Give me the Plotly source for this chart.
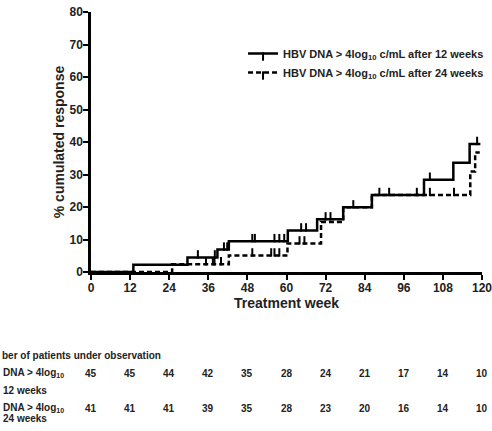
import plotly.graph_objects as go

# ---- data ----
weeks_ticks = [0, 12, 24, 36, 48, 60, 72, 84, 96, 108, 120]

t12 = [0, 13, 29.6, 38.8, 42.3, 60.4, 69.4, 77.4, 86.2, 102.2, 111.2, 116.2, 119.5]
v12 = [0, 2.2, 4.5, 6.9, 9.5, 12.8, 16.2, 19.9, 23.7, 28.4, 33.6, 39.4, 39.4]
cens12_t = [32.8, 38.0, 40.8, 41.8, 49.5, 50.3, 56.3, 57.8, 59.3, 64.5, 66.0, 72.0, 73.5, 80.5, 88.5, 91.5, 100.0, 104.0, 118.5]
cens12_v = [4.5, 4.5, 6.9, 6.9, 9.5, 9.5, 9.5, 9.5, 9.5, 12.8, 12.8, 16.2, 16.2, 19.9, 23.7, 23.7, 23.7, 28.4, 39.4]

t24 = [0, 24.9, 42.3, 60.3, 70.6, 77.4, 86.2, 116.4, 117.9, 119.3]
v24 = [0, 2.4, 5.1, 8.8, 15.4, 19.9, 23.7, 30.9, 36.8, 36.8]
cens24_t = [35.3, 37.4, 37.9, 39.9, 49.5, 55.3, 56.3, 57.8, 64.0, 65.5, 104.0, 111.4]
cens24_v = [2.4, 2.4, 2.4, 2.4, 5.1, 5.1, 5.1, 5.1, 8.8, 8.8, 23.7, 23.7]

n12 = [45, 45, 44, 42, 35, 28, 24, 21, 17, 14, 10]
n24 = [41, 41, 41, 39, 35, 28, 23, 20, 16, 14, 10]

name12 = "HBV DNA > 4log<sub>10</sub> c/mL after 12 weeks"
name24 = "HBV DNA > 4log<sub>10</sub> c/mL after 24 weeks"

# text as visible in the reference (left part is cut by the image edge)
table_title = "ber of patients under observation"
row1_l1, row1_l2 = "DNA > 4log<sub>10</sub>", "12 weeks"
row2_l1, row2_l2 = "DNA > 4log<sub>10</sub>", "24 weeks"

FONT = "Liberation Sans, Arial, sans-serif"
W, H = 492, 431
L, R, T, B = 91, 10, 12, 159
PW, PH = W - L - R, H - T - B


def px_x(px):
    return (px - L) / PW


def px_y(py):
    return (H - B - py) / PH


fig = go.Figure()

solid = dict(color="black", width=2.5)
dashed = dict(color="black", width=2.5, dash="5px,3px")
tick_marker = dict(symbol="line-ns", size=6, angle=180, standoff=3,
                   line=dict(width=2, color="black"))

fig.add_trace(go.Scatter(x=t12, y=v12, mode="lines", line=dict(shape="hv", **solid),
                         showlegend=False, hoverinfo="skip"))
fig.add_trace(go.Scatter(x=t24, y=v24, mode="lines", line=dict(shape="hv", **dashed),
                         showlegend=False, hoverinfo="skip"))
fig.add_trace(go.Scatter(x=cens12_t, y=cens12_v, mode="markers", marker=tick_marker,
                         showlegend=False, hoverinfo="skip", cliponaxis=False))
fig.add_trace(go.Scatter(x=cens24_t, y=cens24_v, mode="markers", marker=tick_marker,
                         showlegend=False, hoverinfo="skip", cliponaxis=False))

# legend entries
fig.add_trace(go.Scatter(x=[None], y=[None], mode="lines+markers", name=name12,
                         line=solid, marker=tick_marker))
fig.add_trace(go.Scatter(x=[None], y=[None], mode="lines+markers", name=name24,
                         line=dashed, marker=tick_marker))

axis_common = dict(
    showgrid=False, zeroline=False, showline=True, linecolor="black", linewidth=2.5,
    ticks="outside", ticklen=5, tickwidth=2, tickcolor="black",
    ticklabelstandoff=-2, ticklabeloverflow="allow", automargin=False,
    tickfont=dict(family=FONT, size=12, color="#222", weight="bold"),
)

fig.update_xaxes(range=[0, 120], tickvals=weeks_ticks,
                 title=dict(text="Treatment week", standoff=3,
                            font=dict(family=FONT, size=14, color="#222", weight="bold")),
                 **axis_common)
fig.update_yaxes(range=[0, 80], dtick=10,
                 title=dict(text="% cumulated response", standoff=2,
                            font=dict(family=FONT, size=14, color="#222", weight="bold")),
                 **axis_common)

ann = []
tfont = dict(family=FONT, size=10, color="#222", weight="bold")
ann.append(dict(text=table_title, xref="paper", yref="paper",
                x=px_x(0), y=px_y(355), xanchor="left", yanchor="middle",
                showarrow=False, font=tfont))
row_label_x = px_x(1)
for txt, py in [(row1_l1, 373), (row1_l2, 390), (row2_l1, 408), (row2_l2, 418)]:
    ann.append(dict(text=txt, xref="paper", yref="paper",
                    x=row_label_x, y=px_y(py), xanchor="left", yanchor="middle",
                    showarrow=False, font=tfont))
for wk, a, b in zip(weeks_ticks, n12, n24):
    ann.append(dict(text=str(a), xref="x", yref="paper", x=wk, y=px_y(373),
                    xanchor="center", yanchor="middle", showarrow=False, font=tfont))
    ann.append(dict(text=str(b), xref="x", yref="paper", x=wk, y=px_y(408),
                    xanchor="center", yanchor="middle", showarrow=False, font=tfont))

fig.update_layout(
    width=W, height=H,
    margin=dict(l=L, r=R, t=T, b=B, autoexpand=False),
    paper_bgcolor="white", plot_bgcolor="white",
    showlegend=True,
    legend=dict(x=1.018, y=px_y(39), xanchor="right", yanchor="top",
                bgcolor="rgba(0,0,0,0)", itemwidth=30,
                font=dict(family=FONT, size=11, color="#222", weight="bold")),
    annotations=ann,
)

fig.write_html("out.html")
